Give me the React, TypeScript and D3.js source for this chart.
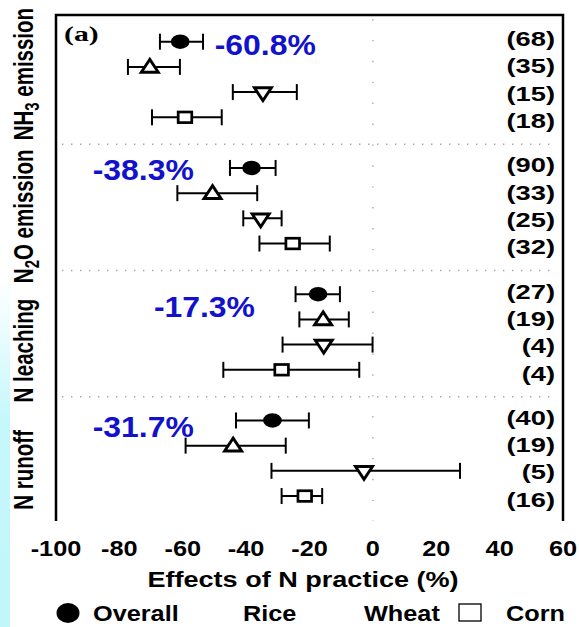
import * as d3 from "d3";
import { useEffect, useRef } from "react";

const groups = ["NH3 emission", "N2O emission", "N leaching", "N runoff"];
const crops = ["Overall", "Rice", "Wheat", "Corn"];
const overallEffect = ["-60.8%", "-38.3%", "-17.3%", "-31.7%"];

// mean effect (%) for each group, crops in the order above
const means = [
  [-60.8, -70.4, -34.7, -59.3],
  [-38.3, -50.6, -35.4, -25.3],
  [-17.3, -15.7, -15.5, -28.8],
  [-31.7, -44.1, -2.8, -21.5],
];
const lower = [
  [-67.2, -77.3, -44.2, -69.7],
  [-45.1, -61.7, -40.9, -35.8],
  [-24.4, -23.2, -28.5, -47.2],
  [-43.2, -59.1, -32.0, -28.8],
];
const upper = [
  [-53.6, -60.9, -24.0, -47.7],
  [-30.7, -36.5, -28.8, -13.6],
  [-10.4, -7.6, -0.1, -4.3],
  [-20.2, -27.5, 27.5, -16.0],
];
const counts = [
  [68, 35, 15, 18],
  [90, 33, 25, 32],
  [27, 19, 4, 4],
  [40, 19, 5, 16],
];
const xTicks = [-100, -80, -60, -40, -20, 0, 20, 40, 60];

const FONT = "'Liberation Sans', Arial, sans-serif";

const App = () => {
  const ref = useRef<SVGSVGElement>(null);

  useEffect(() => {
    const width = 579;
    const height = 627;
    const left = 56, right = 563, top = 15, bottom = 521;

    const svg = d3.select(ref.current);
    svg.selectAll("*").remove();
    svg.attr("width", width).attr("height", height);

    // pale cyan strip on the left edge
    const defs = svg.append("defs");
    const grad = defs.append("linearGradient")
      .attr("id", "edge").attr("x1", 0).attr("y1", 0).attr("x2", 0).attr("y2", 1);
    grad.append("stop").attr("offset", "0%").attr("stop-color", "#c6f7fc").attr("stop-opacity", 0);
    grad.append("stop").attr("offset", "40%").attr("stop-color", "#c6f7fc").attr("stop-opacity", 1);
    grad.append("stop").attr("offset", "100%").attr("stop-color", "#c2f6fb").attr("stop-opacity", 1);
    svg.append("rect").attr("x", 0).attr("y", 280).attr("width", 10).attr("height", 347)
      .attr("fill", "url(#edge)");

    const x = d3.scaleLinear().domain([-100, 60]).range([left, right]);
    const band = d3.scaleBand().domain(groups).range([18, 523]);
    const row = d3.scaleLinear().domain([0, 3]).range([23.7, 99.3]);
    const countRow = d3.scaleLinear().domain([0, 3]).range([28, 110]);

    const txt = (g: any, tx: number, ty: number, sx: number, s: string) =>
      g.append("text")
        .attr("transform", `translate(${tx},${ty}) scale(${sx},1)`)
        .attr("font-family", FONT)
        .attr("font-weight", "bold")
        .text(s);

    // dotted guides
    svg.append("line")
      .attr("x1", x(0)).attr("x2", x(0)).attr("y1", top + 4).attr("y2", bottom)
      .attr("stroke", "#a8a8a8").attr("stroke-width", 1.4)
      .attr("stroke-dasharray", "1.4,19.5");
    groups.slice(1).forEach(gname => {
      svg.append("line")
        .attr("x1", left + 6).attr("x2", right - 8)
        .attr("y1", band(gname)!).attr("y2", band(gname)!)
        .attr("stroke", "#a8a8a8").attr("stroke-width", 1.4)
        .attr("stroke-dasharray", "1.4,7.6");
    });

    // frame (open at the bottom)
    svg.append("path")
      .attr("d", `M${left},${bottom}V${top}H${right}V${bottom}`)
      .attr("fill", "none").attr("stroke", "#000").attr("stroke-width", 2.5);

    txt(svg, 64, 41, 1.35, "(a)")
      .attr("font-family", "'Liberation Serif', 'Times New Roman', serif")
      .attr("font-size", 22);

    // overall effect labels: [x start in data units, baseline below band top]
    const pctPos = [[-49.9, 37], [-88.4, 36], [-69.1, 46.5], [-88.4, 40]];

    groups.forEach((gname, gi) => {
      const g0 = band(gname)!;
      const g = svg.append("g");

      crops.forEach((crop, ci) => {
        const y = g0 + row(ci);
        const x0 = x(lower[gi][ci]);
        const x1 = x(upper[gi][ci]);
        g.append("line").attr("x1", x0).attr("x2", x1).attr("y1", y).attr("y2", y)
          .attr("stroke", "#000").attr("stroke-width", 2);
        [x0, x1].forEach(cx => {
          g.append("line").attr("x1", cx).attr("x2", cx).attr("y1", y - 8).attr("y2", y + 8)
            .attr("stroke", "#000").attr("stroke-width", 2);
        });
        const cx = x(means[gi][ci]);
        if (crop === "Overall") {
          g.append("ellipse").attr("cx", cx).attr("cy", y).attr("rx", 9.3).attr("ry", 7.2).attr("fill", "#000");
        } else if (crop === "Rice") {
          g.append("path").attr("d", `M${cx},${y - 7.5}L${cx + 8.5},${y + 5.3}L${cx - 8.5},${y + 5.3}Z`)
            .attr("fill", "#fff").attr("stroke", "#000").attr("stroke-width", 2.9);
        } else if (crop === "Wheat") {
          g.append("path").attr("d", `M${cx - 8.5},${y - 4.3}L${cx + 8.5},${y - 4.3}L${cx},${y + 8.5}Z`)
            .attr("fill", "#fff").attr("stroke", "#000").attr("stroke-width", 2.9);
        } else {
          g.append("rect").attr("x", cx - 6.8).attr("y", y - 5.3).attr("width", 13.6).attr("height", 10.6)
            .attr("fill", "#fff").attr("stroke", "#000").attr("stroke-width", 2.7);
        }

        txt(g, 555, g0 + countRow(ci), 1.3, `(${counts[gi][ci]})`)
          .attr("font-size", 21).attr("text-anchor", "end");
      });

      txt(g, x(pctPos[gi][0]), g0 + pctPos[gi][1], 1.1, overallEffect[gi])
        .attr("font-size", 29).attr("fill", "#1212cc");
    });

    // rotated group labels with subscripts
    const labelShift = [-7, 9, 17, 10];
    const sub: Record<string, [string, string, string]> = {
      "NH3 emission": ["NH", "3", " emission"],
      "N2O emission": ["N", "2", "O emission"],
    };
    groups.forEach((gname, gi) => {
      const cy = band(gname)! + band.bandwidth() / 2 + labelShift[gi];
      const t = svg.append("text")
        .attr("transform", `translate(33,${cy}) scale(1.36,1) rotate(-90)`)
        .attr("font-family", FONT).attr("font-weight", "bold").attr("font-size", 20.5)
        .attr("text-anchor", "middle");
      if (sub[gname]) {
        const [a, b, c] = sub[gname];
        t.append("tspan").text(a);
        t.append("tspan").attr("dy", 4.5).attr("font-size", 15).text(b);
        t.append("tspan").attr("dy", -4.5).text(c);
      } else {
        t.text(gname);
      }
    });

    // x tick labels and title
    xTicks.forEach(v => {
      txt(svg, x(v), 556, 1.15, String(v)).attr("font-size", 22).attr("text-anchor", "middle");
    });
    txt(svg, 303, 587, 1.23, "Effects of N practice (%)").attr("font-size", 22).attr("text-anchor", "middle");

    // legend (only Overall and Corn carry symbols in the original)
    svg.append("ellipse").attr("cx", 68).attr("cy", 613).attr("rx", 11.5).attr("ry", 10).attr("fill", "#000");
    txt(svg, 93, 621, 1.15, "Overall").attr("font-size", 22);
    txt(svg, 243, 621, 1.15, "Rice").attr("font-size", 22);
    txt(svg, 364, 621, 1.15, "Wheat").attr("font-size", 22);
    svg.append("rect").attr("x", 459).attr("y", 604).attr("width", 22).attr("height", 17)
      .attr("fill", "#fff").attr("stroke", "#000").attr("stroke-width", 1.3);
    txt(svg, 506, 621, 1.15, "Corn").attr("font-size", 22);
  }, []);

  return (
    <div style={{ position: "absolute", left: 0, top: 0 }}>
      <svg ref={ref} style={{ display: "block", background: "#fff" }} />
    </div>
  );
};

export default App;
